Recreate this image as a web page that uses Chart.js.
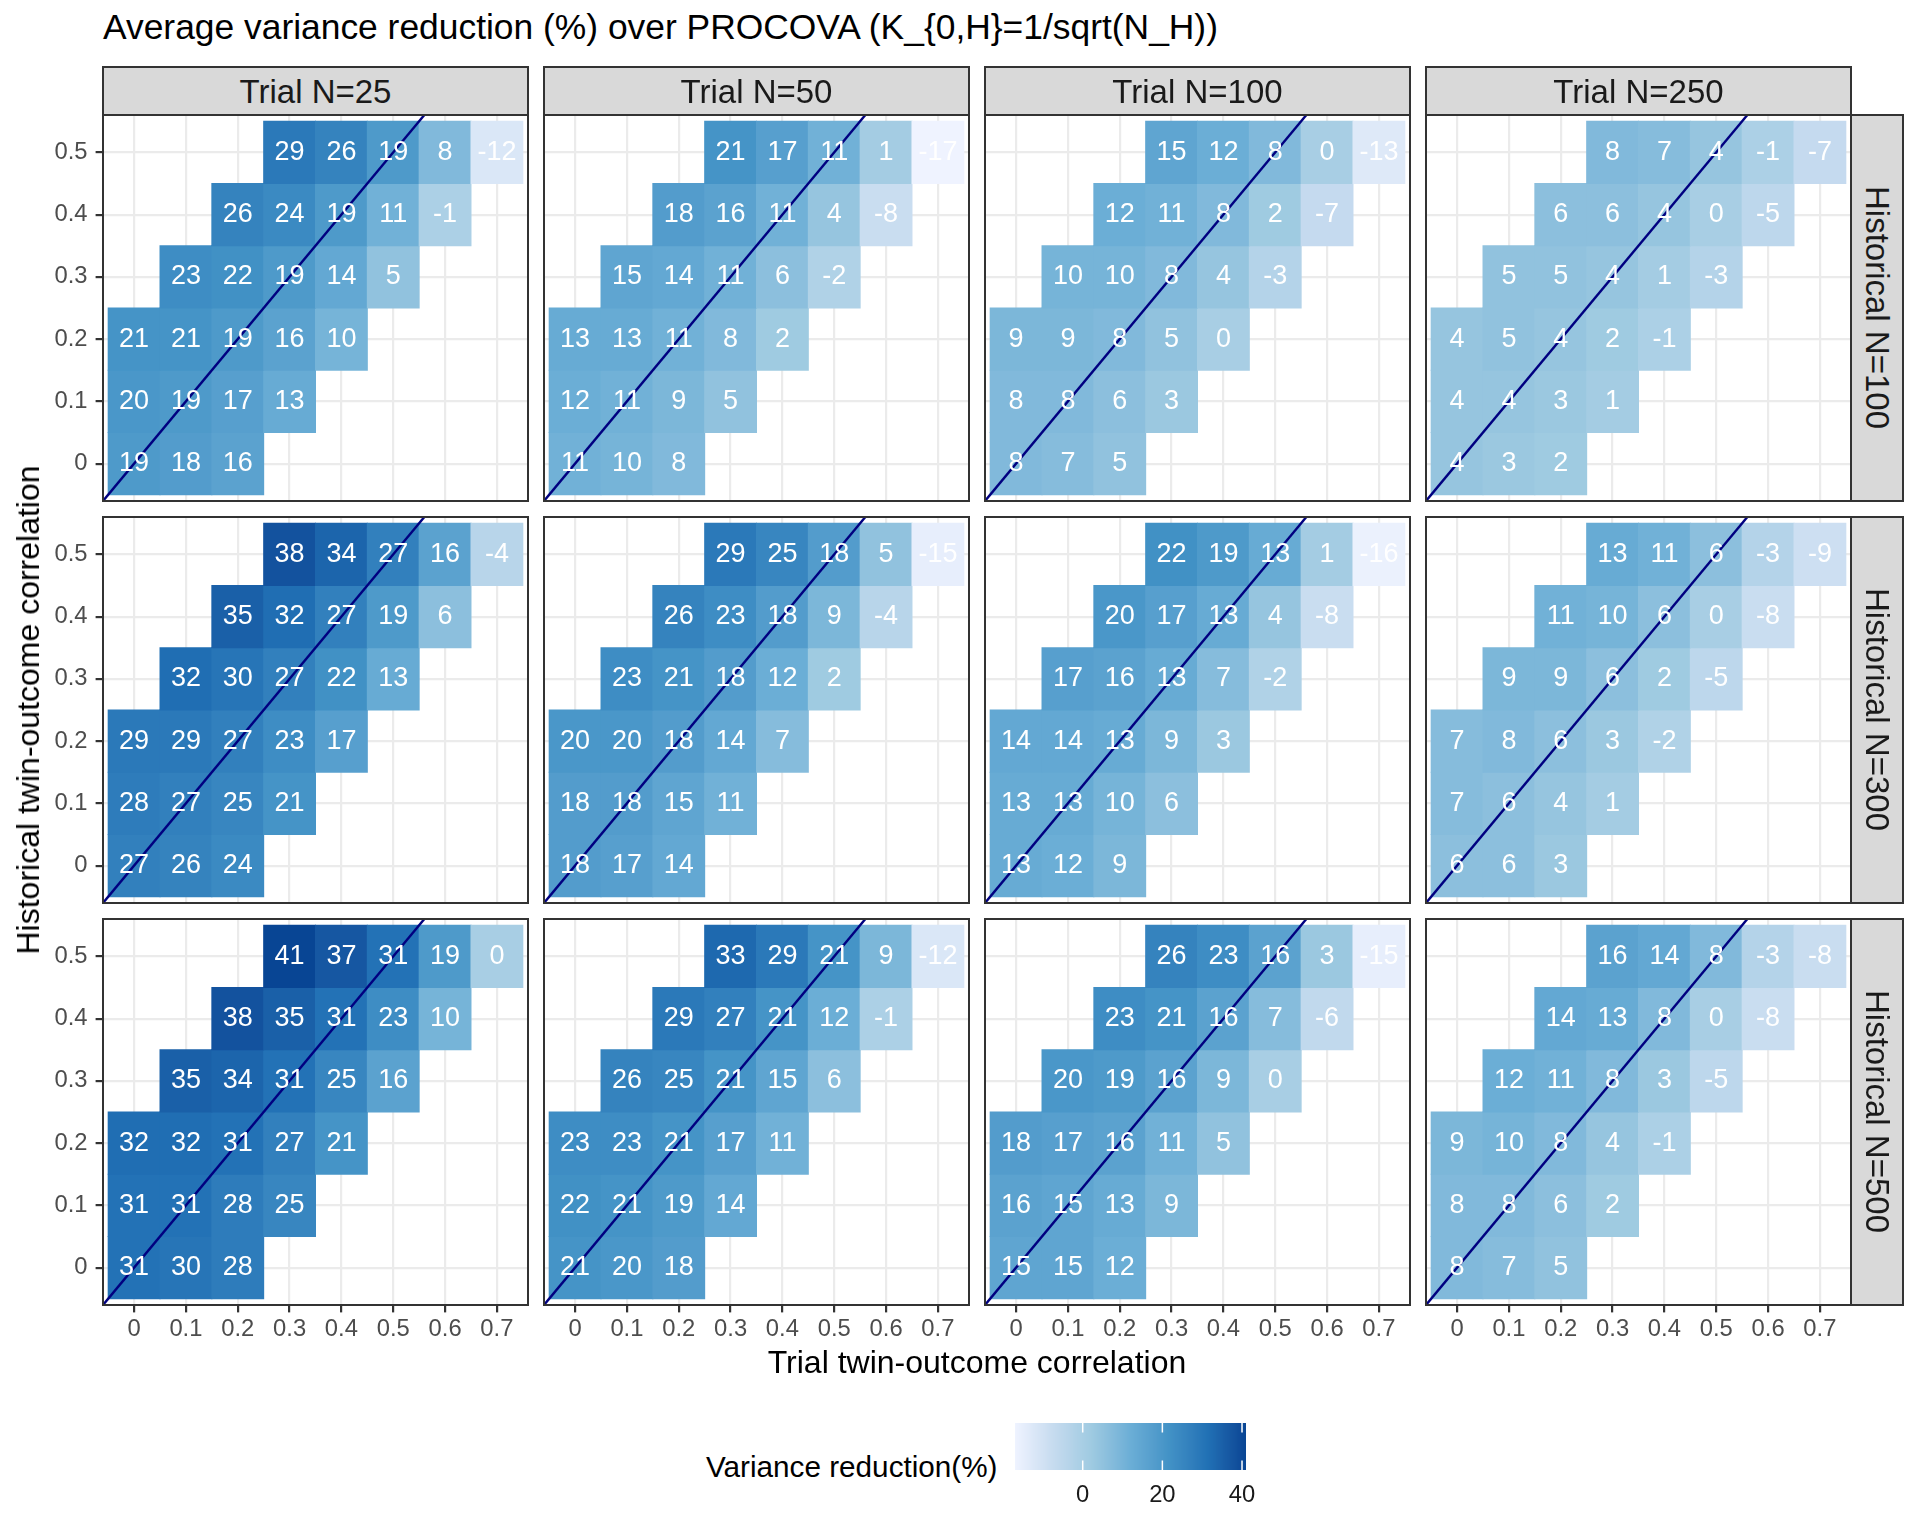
<!DOCTYPE html>
<html>
<head>
<meta charset="utf-8">
<title>Average variance reduction over PROCOVA</title>
<script src="https://cdn.jsdelivr.net/npm/chart.js@4.4.1/dist/chart.umd.min.js"></script>
<style>
  html, body { margin: 0; padding: 0; background: #fff; }
  #page {
    position: relative;
    width: 1920px;
    height: 1536px;
    overflow: hidden;
    font-family: "Liberation Sans", Arial, Helvetica, sans-serif;
    color: #000;
  }
  #page canvas { position: absolute; }
  .txt { position: absolute; white-space: nowrap; line-height: 1; }
  .strip {
    position: absolute;
    box-sizing: border-box;
    background: #d9d9d9;
    border: 2px solid #333333;
    color: #1a1a1a;
    font-size: 33px;
    display: flex;
    align-items: center;
    justify-content: center;
    white-space: nowrap;
    line-height: 1;
  }
  .strip.right span { writing-mode: vertical-rl; }
</style>
</head>
<body>
<div id="page"></div>
<script>
  // ---- data ----
  const trialCorr = [0, 0.1, 0.2, 0.3, 0.4, 0.5, 0.6, 0.7];
  const histCorr = [0, 0.1, 0.2, 0.3, 0.4, 0.5];
  const trialTickLabels = ["0", "0.1", "0.2", "0.3", "0.4", "0.5", "0.6", "0.7"];
  const histTickLabels = ["0", "0.1", "0.2", "0.3", "0.4", "0.5"];
  const trialSizes = ["Trial N=25", "Trial N=50", "Trial N=100", "Trial N=250"];
  const histSizes = ["Historical N=100", "Historical N=300", "Historical N=500"];
  const legendTicks = [0, 20, 40];

  const TITLE = "Average variance reduction (%) over PROCOVA (K_{0,H}=1/sqrt(N_H))";
  const X_TITLE = "Trial twin-outcome correlation";
  const Y_TITLE = "Historical twin-outcome correlation";
  const LEGEND_TITLE = "Variance reduction(%)";

  // rows: historical correlation 0 .. 0.5, columns: trial correlation 0 .. 0.7
  const h100_t25 = [
    [19, 18, 16, null, null, null, null, null],
    [20, 19, 17, 13, null, null, null, null],
    [21, 21, 19, 16, 10, null, null, null],
    [null, 23, 22, 19, 14, 5, null, null],
    [null, null, 26, 24, 19, 11, -1, null],
    [null, null, null, 29, 26, 19, 8, -12]
  ];
  const h100_t50 = [
    [11, 10, 8, null, null, null, null, null],
    [12, 11, 9, 5, null, null, null, null],
    [13, 13, 11, 8, 2, null, null, null],
    [null, 15, 14, 11, 6, -2, null, null],
    [null, null, 18, 16, 11, 4, -8, null],
    [null, null, null, 21, 17, 11, 1, -17]
  ];
  const h100_t100 = [
    [8, 7, 5, null, null, null, null, null],
    [8, 8, 6, 3, null, null, null, null],
    [9, 9, 8, 5, 0, null, null, null],
    [null, 10, 10, 8, 4, -3, null, null],
    [null, null, 12, 11, 8, 2, -7, null],
    [null, null, null, 15, 12, 8, 0, -13]
  ];
  const h100_t250 = [
    [4, 3, 2, null, null, null, null, null],
    [4, 4, 3, 1, null, null, null, null],
    [4, 5, 4, 2, -1, null, null, null],
    [null, 5, 5, 4, 1, -3, null, null],
    [null, null, 6, 6, 4, 0, -5, null],
    [null, null, null, 8, 7, 4, -1, -7]
  ];
  const h300_t25 = [
    [27, 26, 24, null, null, null, null, null],
    [28, 27, 25, 21, null, null, null, null],
    [29, 29, 27, 23, 17, null, null, null],
    [null, 32, 30, 27, 22, 13, null, null],
    [null, null, 35, 32, 27, 19, 6, null],
    [null, null, null, 38, 34, 27, 16, -4]
  ];
  const h300_t50 = [
    [18, 17, 14, null, null, null, null, null],
    [18, 18, 15, 11, null, null, null, null],
    [20, 20, 18, 14, 7, null, null, null],
    [null, 23, 21, 18, 12, 2, null, null],
    [null, null, 26, 23, 18, 9, -4, null],
    [null, null, null, 29, 25, 18, 5, -15]
  ];
  const h300_t100 = [
    [13, 12, 9, null, null, null, null, null],
    [13, 13, 10, 6, null, null, null, null],
    [14, 14, 13, 9, 3, null, null, null],
    [null, 17, 16, 13, 7, -2, null, null],
    [null, null, 20, 17, 13, 4, -8, null],
    [null, null, null, 22, 19, 13, 1, -16]
  ];
  const h300_t250 = [
    [6, 6, 3, null, null, null, null, null],
    [7, 6, 4, 1, null, null, null, null],
    [7, 8, 6, 3, -2, null, null, null],
    [null, 9, 9, 6, 2, -5, null, null],
    [null, null, 11, 10, 6, 0, -8, null],
    [null, null, null, 13, 11, 6, -3, -9]
  ];
  const h500_t25 = [
    [31, 30, 28, null, null, null, null, null],
    [31, 31, 28, 25, null, null, null, null],
    [32, 32, 31, 27, 21, null, null, null],
    [null, 35, 34, 31, 25, 16, null, null],
    [null, null, 38, 35, 31, 23, 10, null],
    [null, null, null, 41, 37, 31, 19, 0]
  ];
  const h500_t50 = [
    [21, 20, 18, null, null, null, null, null],
    [22, 21, 19, 14, null, null, null, null],
    [23, 23, 21, 17, 11, null, null, null],
    [null, 26, 25, 21, 15, 6, null, null],
    [null, null, 29, 27, 21, 12, -1, null],
    [null, null, null, 33, 29, 21, 9, -12]
  ];
  const h500_t100 = [
    [15, 15, 12, null, null, null, null, null],
    [16, 15, 13, 9, null, null, null, null],
    [18, 17, 16, 11, 5, null, null, null],
    [null, 20, 19, 16, 9, 0, null, null],
    [null, null, 23, 21, 16, 7, -6, null],
    [null, null, null, 26, 23, 16, 3, -15]
  ];
  const h500_t250 = [
    [8, 7, 5, null, null, null, null, null],
    [8, 8, 6, 2, null, null, null, null],
    [9, 10, 8, 4, -1, null, null, null],
    [null, 12, 11, 8, 3, -5, null, null],
    [null, null, 14, 13, 8, 0, -8, null],
    [null, null, null, 16, 14, 8, -3, -8]
  ];

  const panels = [
    [h100_t25, h100_t50, h100_t100, h100_t250],
    [h300_t25, h300_t50, h300_t100, h300_t250],
    [h500_t25, h500_t50, h500_t100, h500_t250]
  ];

  // ---- layout & style ----
  const FONT = '"Liberation Sans", Arial, Helvetica, sans-serif';
  const PANEL_W = 425;
  const PANEL_H = 386;
  const COL_LEFT = [103, 544, 985, 1426];
  const ROW_TOP = [115, 517, 919];
  const STRIP_TOP = 66;
  const STRIP_W = 54;
  const GRID_COLOR = "#ebebeb";
  const DARK = "#333333";
  const AXIS_TEXT = "#4d4d4d";
  const BLUES = ["#eff3ff", "#c6dbef", "#9ecae1", "#6baed6", "#4292c6", "#2171b5", "#084594"];

  Chart.defaults.font.family = FONT;

  const page = document.getElementById("page");

  // ---- colour scale (Lab interpolation like ggplot) ----
  function hexToLab(hex) {
    const n = parseInt(hex.slice(1), 16);
    const lin = [(n >> 16) & 255, (n >> 8) & 255, n & 255].map((c) => {
      c /= 255;
      return c <= 0.04045 ? c / 12.92 : Math.pow((c + 0.055) / 1.055, 2.4);
    });
    const X = (0.4124 * lin[0] + 0.3576 * lin[1] + 0.1805 * lin[2]) / 0.95047;
    const Y = 0.2126 * lin[0] + 0.7152 * lin[1] + 0.0722 * lin[2];
    const Z = (0.0193 * lin[0] + 0.1192 * lin[1] + 0.9505 * lin[2]) / 1.08883;
    const f = (t) => (t > 0.008856 ? Math.cbrt(t) : 7.787 * t + 16 / 116);
    return [116 * f(Y) - 16, 500 * (f(X) - f(Y)), 200 * (f(Y) - f(Z))];
  }

  function labToRgb(L, a, b) {
    const fy = (L + 16) / 116;
    const fx = fy + a / 500;
    const fz = fy - b / 200;
    const inv = (t) => (t * t * t > 0.008856 ? t * t * t : (t - 16 / 116) / 7.787);
    const X = inv(fx) * 0.95047, Y = inv(fy), Z = inv(fz) * 1.08883;
    const lin = [
      3.2406 * X - 1.5372 * Y - 0.4986 * Z,
      -0.9689 * X + 1.8758 * Y + 0.0415 * Z,
      0.0557 * X - 0.204 * Y + 1.057 * Z
    ];
    return lin.map((c) => {
      c = c <= 0.0031308 ? 12.92 * c : 1.055 * Math.pow(c, 1 / 2.4) - 0.055;
      return Math.round(Math.min(1, Math.max(0, c)) * 255);
    });
  }

  const paletteLab = BLUES.map((hex) => hexToLab(hex));
  const allValues = panels.flat(3).filter((v) => v !== null);
  const vMin = Math.min(...allValues);
  const vMax = Math.max(...allValues);

  function colorFor(v) {
    const t = Math.min(1, Math.max(0, (v - vMin) / (vMax - vMin))) * (paletteLab.length - 1);
    const i = Math.min(paletteLab.length - 2, Math.floor(t));
    const k = t - i;
    const a = paletteLab[i], b = paletteLab[i + 1];
    const rgb = labToRgb(a[0] + (b[0] - a[0]) * k, a[1] + (b[1] - a[1]) * k, a[2] + (b[2] - a[2]) * k);
    return `rgb(${rgb[0]}, ${rgb[1]}, ${rgb[2]})`;
  }

  // ---- plugins ----
  const cellLabels = {
    id: "cellLabels",
    afterDatasetsDraw(chart) {
      const ds = chart.data.datasets[1];
      const meta = chart.getDatasetMeta(1);
      const ctx = chart.ctx;
      ctx.save();
      ctx.font = `27px ${FONT}`;
      ctx.fillStyle = "#ffffff";
      ctx.textAlign = "center";
      ctx.textBaseline = "middle";
      meta.data.forEach((bar, i) => {
        const p = bar.getCenterPoint();
        ctx.fillText(String(ds.data[i].v), p.x, p.y);
      });
      ctx.restore();
    }
  };

  const panelBorder = {
    id: "panelBorder",
    afterDraw(chart) {
      const { left, top, width, height } = chart.chartArea;
      const ctx = chart.ctx;
      ctx.save();
      ctx.strokeStyle = DARK;
      ctx.lineWidth = 2;
      ctx.strokeRect(left, top, width, height);
      ctx.restore();
    }
  };

  // ---- panels ----
  const xMin = trialCorr[0] - 0.06;
  const xMax = trialCorr[trialCorr.length - 1] + 0.06;
  const yMin = histCorr[0] - 0.06;
  const yMax = histCorr[histCorr.length - 1] + 0.06;

  function makePanel(r, c) {
    const values = panels[r][c];
    const extraL = c === 0 ? 100 : 3;
    const extraB = r === panels.length - 1 ? 55 : 3;
    const extraT = 3;
    const extraR = 3;

    const canvas = document.createElement("canvas");
    canvas.width = PANEL_W + extraL + extraR;
    canvas.height = PANEL_H + extraT + extraB;
    canvas.style.left = COL_LEFT[c] - extraL + "px";
    canvas.style.top = ROW_TOP[r] - extraT + "px";
    page.appendChild(canvas);

    const cells = [];
    const colors = [];
    values.forEach((row, hi) => {
      row.forEach((v, ti) => {
        if (v === null) return;
        cells.push({ x: trialCorr[ti], y: [histCorr[hi] - 0.05, histCorr[hi] + 0.05], v });
        colors.push(colorFor(v));
      });
    });

    const showX = r === panels.length - 1;
    const showY = c === 0;

    new Chart(canvas, {
      type: "bar",
      data: {
        datasets: [
          {
            type: "line",
            data: [{ x: yMin, y: yMin }, { x: yMax, y: yMax }],
            borderColor: "#000080",
            borderWidth: 2.4,
            pointRadius: 0,
            tension: 0,
            clip: 0
          },
          {
            type: "bar",
            data: cells,
            backgroundColor: colors,
            borderWidth: 0,
            barPercentage: 1,
            categoryPercentage: 1,
            inflateAmount: 0.5
          }
        ]
      },
      options: {
        responsive: false,
        animation: false,
        devicePixelRatio: 1,
        events: [],
        layout: { padding: { left: 0, top: extraT, right: extraR, bottom: 0 } },
        plugins: { legend: { display: false }, tooltip: { enabled: false } },
        scales: {
          x: {
            type: "linear",
            min: xMin,
            max: xMax,
            offset: false,
            afterBuildTicks(scale) {
              scale.ticks = trialCorr.map((v) => ({ value: v }));
            },
            afterFit(scale) {
              scale.height = extraB;
              scale.paddingLeft = 0;
              scale.paddingRight = 0;
            },
            border: { display: false },
            grid: {
              offset: false,
              color: GRID_COLOR,
              lineWidth: 2.2,
              drawTicks: showX,
              tickLength: 7.4,
              tickColor: DARK,
              tickWidth: 2.2
            },
            ticks: {
              display: showX,
              autoSkip: false,
              maxRotation: 0,
              padding: 2.5,
              color: AXIS_TEXT,
              font: { size: 23.8 },
              callback: (value, index) => trialTickLabels[index]
            }
          },
          y: {
            type: "linear",
            min: yMin,
            max: yMax,
            afterBuildTicks(scale) {
              scale.ticks = histCorr.map((v) => ({ value: v }));
            },
            afterFit(scale) {
              scale.width = extraL;
              scale.paddingTop = 0;
              scale.paddingBottom = 0;
            },
            border: { display: false },
            grid: {
              color: GRID_COLOR,
              lineWidth: 2.2,
              drawTicks: showY,
              tickLength: 7.4,
              tickColor: DARK,
              tickWidth: 2.2
            },
            ticks: {
              display: showY,
              autoSkip: false,
              padding: 8,
              color: AXIS_TEXT,
              font: { size: 23.8 },
              callback: (value, index) => histTickLabels[index]
            }
          }
        }
      },
      plugins: [cellLabels, panelBorder]
    });
  }

  panels.forEach((row, r) => row.forEach((_, c) => makePanel(r, c)));

  // ---- strips ----
  trialSizes.forEach((label, c) => {
    const d = document.createElement("div");
    d.className = "strip";
    d.style.left = COL_LEFT[c] - 1 + "px";
    d.style.top = STRIP_TOP + "px";
    d.style.width = PANEL_W + 2 + "px";
    d.style.height = ROW_TOP[0] + 1 - STRIP_TOP + "px";
    d.innerHTML = `<span>${label}</span>`;
    page.appendChild(d);
  });

  histSizes.forEach((label, r) => {
    const d = document.createElement("div");
    d.className = "strip right";
    d.style.left = COL_LEFT[3] + PANEL_W - 1 + "px";
    d.style.top = ROW_TOP[r] - 1 + "px";
    d.style.width = STRIP_W + "px";
    d.style.height = PANEL_H + 2 + "px";
    d.innerHTML = `<span>${label}</span>`;
    page.appendChild(d);
  });

  // ---- titles ----
  function addText(text, css) {
    const d = document.createElement("div");
    d.className = "txt";
    d.textContent = text;
    Object.assign(d.style, css);
    page.appendChild(d);
    return d;
  }

  const gridCenterX = (COL_LEFT[0] + COL_LEFT[3] + PANEL_W) / 2;
  const gridCenterY = (ROW_TOP[0] + ROW_TOP[2] + PANEL_H) / 2;

  addText(TITLE, { left: "103px", top: "10px", fontSize: "35.4px", color: "#000" });
  addText(X_TITLE, {
    left: gridCenterX + "px",
    top: "1346px",
    fontSize: "32px",
    transform: "translateX(-50%)"
  });
  addText(Y_TITLE, {
    left: "28px",
    top: gridCenterY + "px",
    fontSize: "32px",
    transform: "translate(-50%, -50%) rotate(-90deg)"
  });
  const legendTitle = addText(LEGEND_TITLE, { top: "1452px", fontSize: "29.7px" });
  legendTitle.style.left = 998 - legendTitle.offsetWidth + "px";

  // ---- colour bar ----
  const colorbar = {
    id: "colorbar",
    beforeDatasetsDraw(chart) {
      const { left, right, top, bottom } = chart.chartArea;
      const xs = chart.scales.x;
      const ctx = chart.ctx;
      ctx.save();
      for (let px = left; px < right; px += 1) {
        ctx.fillStyle = colorFor(xs.getValueForPixel(px + 0.5));
        ctx.fillRect(px, top, Math.min(1.5, right - px), bottom - top);
      }
      const tick = (bottom - top) / 5;
      ctx.strokeStyle = "#ffffff";
      ctx.lineWidth = 1.5;
      legendTicks.forEach((v) => {
        const p = xs.getPixelForValue(v);
        ctx.beginPath();
        ctx.moveTo(p, top);
        ctx.lineTo(p, top + tick);
        ctx.moveTo(p, bottom - tick);
        ctx.lineTo(p, bottom);
        ctx.stroke();
      });
      ctx.restore();
    }
  };

  const barCanvas = document.createElement("canvas");
  barCanvas.width = 270;
  barCanvas.height = 110;
  barCanvas.style.left = "995px";
  barCanvas.style.top = "1413px";
  page.appendChild(barCanvas);

  new Chart(barCanvas, {
    type: "scatter",
    data: { datasets: [] },
    options: {
      responsive: false,
      animation: false,
      devicePixelRatio: 1,
      events: [],
      layout: { padding: { left: 20, top: 10, right: 19, bottom: 0 } },
      plugins: { legend: { display: false }, tooltip: { enabled: false } },
      scales: {
        x: {
          type: "linear",
          min: vMin,
          max: vMax,
          afterBuildTicks(scale) {
            scale.ticks = legendTicks.map((v) => ({ value: v }));
          },
          afterFit(scale) {
            scale.height = 53;
            scale.paddingLeft = 0;
            scale.paddingRight = 0;
          },
          border: { display: false },
          grid: { display: false, drawTicks: false },
          ticks: {
            autoSkip: false,
            maxRotation: 0,
            padding: 11.5,
            color: "#1a1a1a",
            font: { size: 23.8 },
            callback: (value) => String(value)
          }
        },
        y: { display: false, min: 0, max: 1 }
      }
    },
    plugins: [colorbar]
  });
</script>
</body>
</html>
